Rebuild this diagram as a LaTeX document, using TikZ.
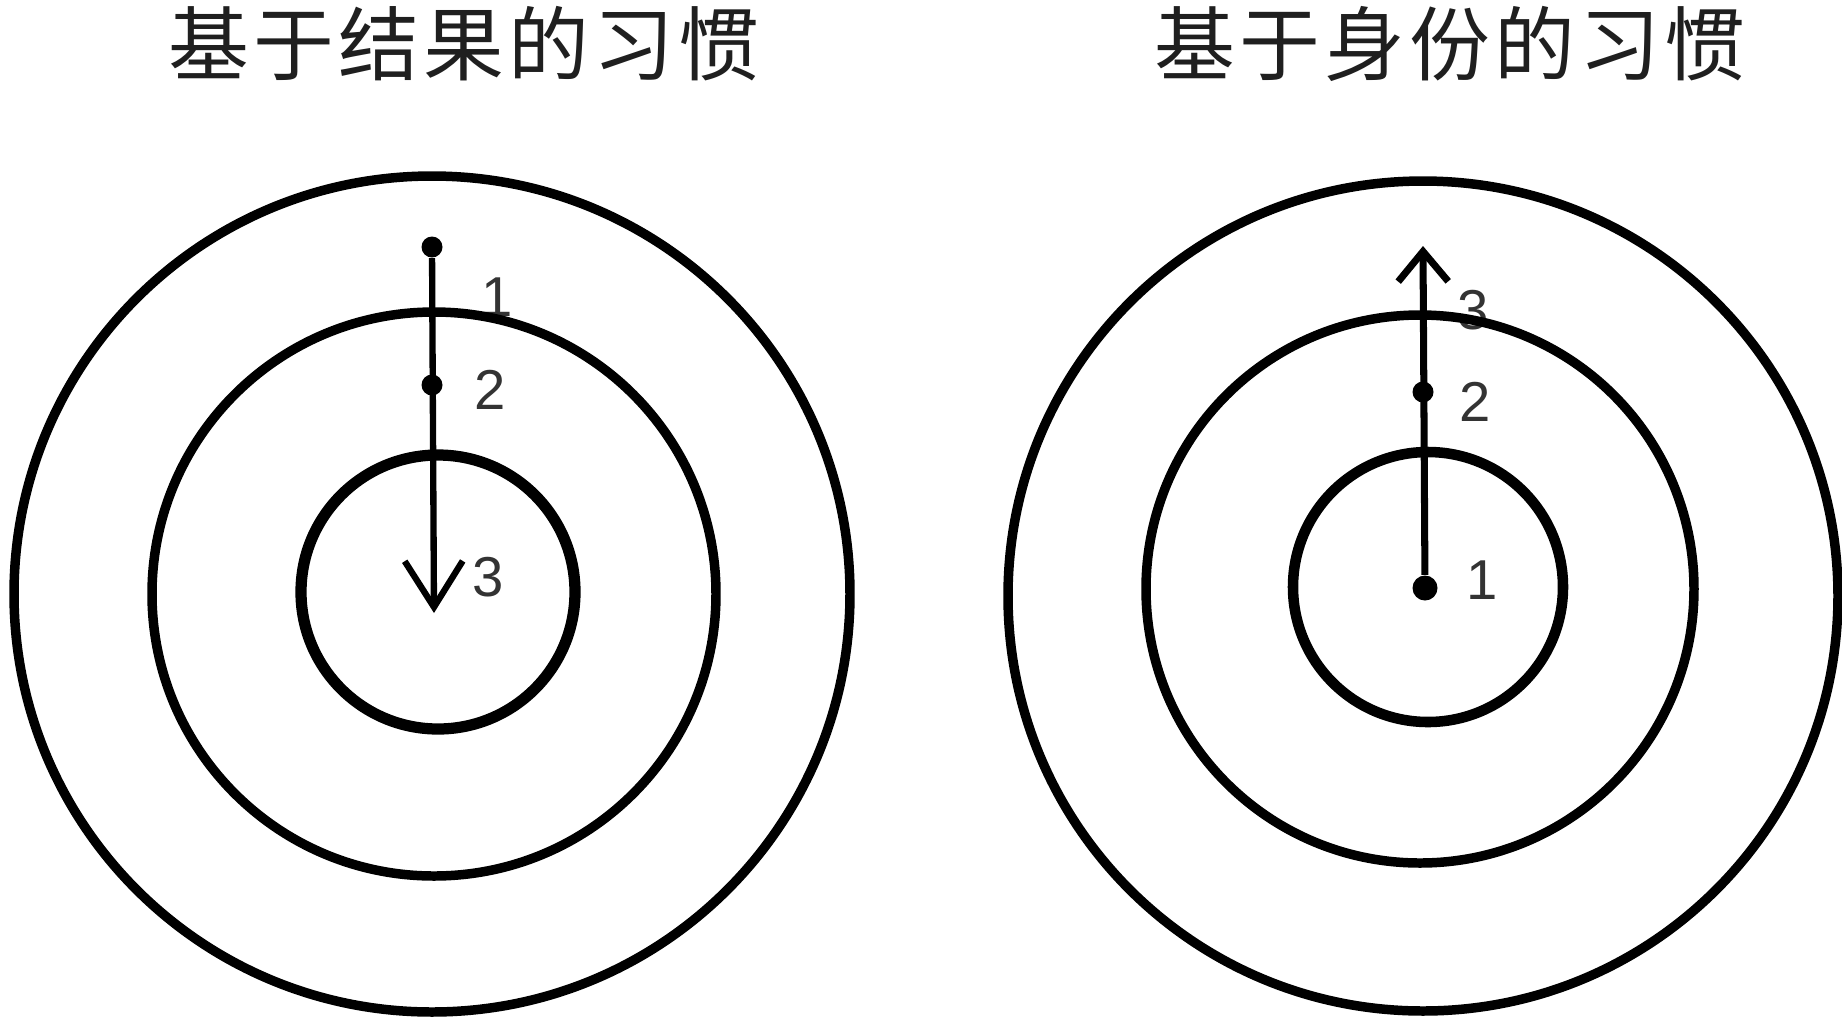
\documentclass[tikz,border=0pt]{standalone}
\usepackage{fontspec}
\setmainfont{Liberation Sans}
\newfontfamily\cjk[LetterSpace=5]{Noto Sans CJK SC}
\usetikzlibrary{arrows.meta, positioning}

\begin{document}
\begin{tikzpicture}[x=0.1mm, y=-0.1mm,
  shaft/.style={line width=1.8pt},
  dot/.style={circle, fill=black, inner sep=0pt, minimum size=2.1mm},
  num/.style={font=\fontsize{16}{16}\selectfont, text=black!80},
  title/.style={font=\cjk\fontsize{23}{23}\selectfont, text=black!88}]
  \useasboundingbox (0,0) rectangle (1842,1020);

  \node[title] (tleft) at (464,44) {基于结果的习惯};
  \node[title] (tright) at (1450,44) {基于身份的习惯};

  % numbers first, so the rings cover them
  \node[num] (nl1) at (497,297) {1};
  \node[num] (nl2) at (490,390) {2};
  \node[num] (nl3) at (488,577) {3};
  \node[num] (nr3) at (1473,310) {3};
  \node[num] (nr2) at (1475,402) {2};
  \node[num] (nr1) at (1482,580) {1};

  \foreach \cx/\cy/\r/\w in {432/594/41.8/2.7, 434/594/28.2/2.7, 438/592/13.7/3.2,
                             1423/596/41.5/2.7, 1420/589/27.4/2.7, 1428/587/13.5/3.0} {
    \draw[line width=\w pt] (\cx,\cy) circle [radius=\r mm];
  }

  % left: outside in
  \node[dot] (la) at (432,247) {};
  \node[dot] (lb) at (432,385) {};
  \coordinate (lc) at (434,613);
  \draw[shaft, -{Straight Barb[length=4.6mm, width=5.8mm]}] (la) -- (lc);

  % right: inside out
  \node[dot, minimum size=2.5mm] (ra) at (1425,588) {};
  \node[dot] (rb) at (1423,392) {};
  \coordinate (rc) at (1423,246);
  \draw[shaft, line width=2pt, -{Straight Barb[length=3mm, width=5mm]}] (ra) -- (rc);
\end{tikzpicture}
\end{document}
